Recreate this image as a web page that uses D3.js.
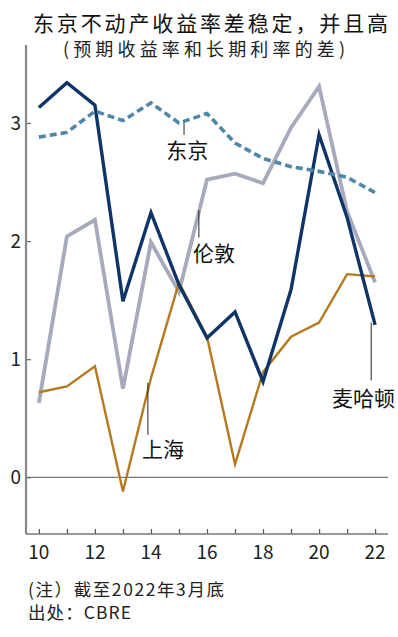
<!DOCTYPE html>
<html>
<head>
<meta charset="utf-8">
<script src="https://cdn.jsdelivr.net/npm/d3@7"></script>
<style>
  body { margin: 0; background: #fff; }
  svg text { font-family: "Noto Sans CJK SC", "Noto Sans", sans-serif; }
</style>
</head>
<body>
<div id="canvas"></div>
<script>
// years on the x axis (2010 .. 2022)
var years = [10, 11, 12, 13, 14, 15, 16, 17, 18, 19, 20, 21, 22]
var xTickLabels = [10, 12, 14, 16, 18, 20, 22]
var yTickLabels = [0, 1, 2, 3]

// yield spread, %
var tokyo = [2.88, 2.92, 3.10, 3.02, 3.17, 3.00, 3.08, 2.83, 2.70, 2.63, 2.59, 2.54, 2.41]
var london = [0.63, 2.04, 2.18, 0.75, 1.99, 1.57, 2.52, 2.57, 2.49, 2.96, 3.31, 2.25, 1.65]
var manhattan = [3.13, 3.34, 3.15, 1.49, 2.24, 1.63, 1.18, 1.40, 0.81, 1.59, 2.90, 2.20, 1.29]
var shanghai = [0.72, 0.77, 0.94, -0.12, 0.84, 1.65, 1.19, 0.11, 0.89, 1.19, 1.31, 1.72, 1.70]

// city labels: text, text start (year, value), leader line (year, from, to)
var labels = [
  { text: '东京', x: 14.55, y: 2.70, lx: 15.18, y1: 3.00, y2: 2.90 },
  { text: '伦敦', x: 15.5, y: 1.83, lx: 15.71, y1: 2.26, y2: 2.03 },
  { text: '上海', x: 13.68, y: 0.17, lx: 13.89, y1: 0.80, y2: 0.36 },
  { text: '麦哈顿', x: 20.46, y: 0.60, lx: 21.86, y1: 1.31, y2: 0.82 }
]

var W = 398, H = 637

var svg = d3.select('#canvas').append('svg')
  .attr('width', W)
  .attr('height', H)

var x = d3.scaleLinear().domain([9.54, 22.46]).range([26, 388])
var y = d3.scaleLinear().domain([-0.48, 3.66]).range([534, 45])

// title
svg.append('text')
  .attr('x', 33).attr('y', 31)
  .attr('font-size', 21)
  .attr('textLength', 355)
  .attr('lengthAdjust', 'spacing')
  .attr('fill', '#111')
  .text('东京不动产收益率差稳定，并且高')

svg.append('text')
  .attr('x', 63).attr('y', 56)
  .attr('font-size', 18)
  .attr('textLength', 282)
  .attr('lengthAdjust', 'spacing')
  .attr('fill', '#222')
  .text('(预期收益率和长期利率的差)')

// zero line
svg.append('line')
  .attr('x1', x.range()[0]).attr('x2', x.range()[1])
  .attr('y1', y(0)).attr('y2', y(0))
  .attr('stroke', '#555').attr('stroke-width', 1)

// axes
var yAxis = d3.axisRight(y).tickValues(yTickLabels).tickSize(5).tickFormat('')
var yg = svg.append('g').attr('transform', 'translate(' + x.range()[0] + ',0)').call(yAxis)
yg.select('.domain').remove()
yg.selectAll('line').attr('stroke', '#666').attr('stroke-width', 1.2)
svg.append('line')
  .attr('x1', x.range()[0]).attr('x2', x.range()[0])
  .attr('y1', y.range()[1]).attr('y2', y.range()[0])
  .attr('stroke', '#888').attr('stroke-width', 2.2)

svg.selectAll('.ylab')
  .data(yTickLabels)
  .enter().append('text')
  .attr('class', 'ylab')
  .attr('x', 21)
  .attr('y', function (d) { return y(d) + 7 })
  .attr('text-anchor', 'end')
  .attr('font-size', 19)
  .attr('fill', '#222')
  .text(function (d) { return d })

var xAxis = d3.axisTop(x).tickValues(years).tickSize(5).tickFormat('')
var xg = svg.append('g').attr('transform', 'translate(0,' + y.range()[0] + ')').call(xAxis)
xg.select('.domain').remove()
xg.selectAll('line').attr('stroke', '#555').attr('stroke-width', 1.2)
svg.append('line')
  .attr('x1', x.range()[0]).attr('x2', x.range()[1])
  .attr('y1', y.range()[0]).attr('y2', y.range()[0])
  .attr('stroke', '#777').attr('stroke-width', 1.6)

svg.selectAll('.xlab')
  .data(xTickLabels)
  .enter().append('text')
  .attr('class', 'xlab')
  .attr('x', function (d) { return x(d) })
  .attr('y', 559)
  .attr('text-anchor', 'middle')
  .attr('font-size', 19)
  .attr('fill', '#222')
  .text(function (d) { return d })

// series
var line = d3.line()
  .x(function (d, i) { return x(years[i]) })
  .y(function (d) { return y(d) })

var series = [
  { values: london, color: '#a7a9bd', width: 3.8, dash: null },
  { values: shanghai, color: '#b47a1f', width: 2.4, dash: null },
  { values: manhattan, color: '#0f3466', width: 3.4, dash: null },
  { values: tokyo, color: '#4f87a8', width: 3.6, dash: '7,4' }
]

svg.selectAll('.series')
  .data(series)
  .enter().append('path')
  .attr('class', 'series')
  .attr('d', function (d) { return line(d.values) })
  .attr('fill', 'none')
  .attr('stroke', function (d) { return d.color })
  .attr('stroke-width', function (d) { return d.width })
  .attr('stroke-dasharray', function (d) { return d.dash })
  .attr('stroke-linejoin', 'miter')

// labels with leader lines
svg.selectAll('.leader')
  .data(labels)
  .enter().append('line')
  .attr('class', 'leader')
  .attr('x1', function (d) { return x(d.lx) })
  .attr('x2', function (d) { return x(d.lx) })
  .attr('y1', function (d) { return y(d.y1) })
  .attr('y2', function (d) { return y(d.y2) })
  .attr('stroke', '#222').attr('stroke-width', 1)

svg.selectAll('.city')
  .data(labels)
  .enter().append('text')
  .attr('class', 'city')
  .attr('x', function (d) { return x(d.x) })
  .attr('y', function (d) { return y(d.y) })
  .attr('font-size', 21)
  .attr('fill', '#111')
  .text(function (d) { return d.text })

// footer
svg.append('text')
  .attr('x', 28).attr('y', 596)
  .attr('font-size', 17.5)
  .attr('textLength', 196)
  .attr('lengthAdjust', 'spacing')
  .attr('fill', '#222')
  .text('(注）截至2022年3月底')

svg.append('text')
  .attr('x', 28).attr('y', 619)
  .attr('font-size', 17.5)
  .attr('textLength', 103)
  .attr('lengthAdjust', 'spacing')
  .attr('fill', '#222')
  .text('出处：CBRE')
</script>
</body>
</html>
